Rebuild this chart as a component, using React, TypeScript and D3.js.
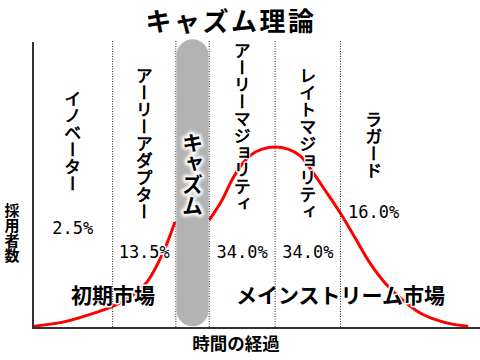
import * as d3 from "d3";

// adoption curve (time 0-100, adopters 0-100)
const earlyX = [0.2, 6.7, 14.4, 18.0, 21.8, 25.6, 29.2, 31.9];
const earlyY = [0.3, 1.7, 5.2, 7.3, 10.5, 15.7, 25.9, 36.7];
const mainX = [39.6, 42.5, 44.7, 47.0, 49.2, 51.5, 54.4, 57.3, 60.0, 62.7, 65.6, 69.2, 72.4, 75.7, 79.1, 83.1, 87.0, 90.8, 94.2, 97.8];
const mainY = [37.4, 44.4, 51.4, 57.0, 60.4, 62.2, 62.9, 62.2, 59.9, 54.5, 47.9, 39.5, 31.1, 22.4, 15.4, 9.4, 4.9, 2.4, 1.0, 0.3];

const groups = ["イノベーター", "アーリーアダプター", "アーリーマジョリティ", "レイトマジョリティ", "ラガード"];
const shares = [2.5, 13.5, 34.0, 34.0, 16.0];
const groupStart = [0, 17.9, 39.6, 54.4, 69.1];
const groupEnd = [17.9, 32.1, 54.4, 69.1, 84.0];
const chasm = [32.1, 39.6];
const dividers = [17.9, 32.1, 39.6, 54.4, 69.1];
const markets = ["初期市場", "メインストリーム市場"];
const marketX = [18.0, 69.1];

const title = "キャズム理論";
const chasmLabel = "キャズム";
const xLabel = "時間の経過";
const yLabel = "採用者数";

// label layout (in chart units)
const nameTop = [83, 91, 99.5, 91, 75.5];
const shareY = [32.6, 24.3, 24, 24.3, 38];

const W = 480;
const H = 360;
const JP = "'Noto Sans CJK JP', 'Noto Sans', sans-serif";

export default function App() {
  const x = d3.scaleLinear().domain([0, 100]).range([33, 478]);
  const y = d3.scaleLinear().domain([0, 100]).range([327, 41]);
  const line = d3
    .line<[number, number]>()
    .x((d) => x(d[0]))
    .y((d) => y(d[1]))
    .curve(d3.curveCatmullRom);
  const early = earlyX.map((v, i) => [v, earlyY[i]] as [number, number]);
  const main = mainX.map((v, i) => [v, mainY[i]] as [number, number]);
  const fmt = d3.format(".1f");
  const halo = { stroke: "#fff", strokeWidth: 3, paintOrder: "stroke" as const, strokeLinejoin: "round" as const };
  const cw = x(chasm[1]) - x(chasm[0]);

  return (
    <svg width={W} height={H} style={{ position: "absolute", left: 0, top: 0, background: "#fff" }}>
      <defs>
        <filter id="glow" x="-30%" y="-30%" width="160%" height="160%">
          <feGaussianBlur stdDeviation="1.6" />
        </filter>
      </defs>

      <path d={line(early) || ""} fill="none" stroke="#ff0000" strokeWidth={3} />
      <path d={line(main) || ""} fill="none" stroke="#ff0000" strokeWidth={3} />

      {groups.map((g, i) => {
        const cx = x((groupStart[i] + groupEnd[i]) / 2);
        return (
          <g key={g}>
            <text
              x={cx}
              y={y(nameTop[i])}
              fontFamily={JP}
              fontSize={17}
              style={{ writingMode: "vertical-rl", ...halo }}
              fill="#000"
            >
              {g}
            </text>
            <text
              x={cx}
              y={y(nameTop[i])}
              fontFamily={JP}
              fontSize={17}
              style={{ writingMode: "vertical-rl" }}
              fill="#000"
              stroke="#000"
              strokeWidth={0.5}
            >
              {g}
            </text>
            <text
              x={cx}
              y={y(shareY[i])}
              textAnchor="middle"
              fontFamily="'DejaVu Sans Mono', monospace"
              fontSize={17}
              fill="#000"
              style={halo}
            >
              {fmt(shares[i])}%
            </text>
          </g>
        );
      })}

      {markets.map((m, i) => (
        <text
          key={m}
          x={x(marketX[i])}
          y={y(8.4)}
          textAnchor="middle"
          fontFamily={JP}
          fontWeight="bold"
          fontSize={21}
          fill="#000"
          style={halo}
        >
          {m}
        </text>
      ))}

      {dividers.map((d) => (
        <line
          key={d}
          x1={x(d)}
          x2={x(d)}
          y1={y(100)}
          y2={y(0)}
          stroke="#222"
          strokeWidth={1}
          strokeDasharray="1 1.5"
        />
      ))}

      <rect
        x={x(chasm[0]) + 0.6}
        y={y(100.6)}
        width={cw - 1.2}
        height={y(0.3) - y(100.6)}
        rx={cw / 2}
        ry={16}
        fill="#b3b3b3"
      />
      <g fontFamily={JP} fontWeight="bold" fontSize={21} style={{ writingMode: "vertical-rl" }}>
        <text
          x={x((chasm[0] + chasm[1]) / 2)}
          y={y(68.5)}
          fill="#fff"
          stroke="#fff"
          strokeWidth={5}
          strokeLinejoin="round"
          filter="url(#glow)"
        >
          {chasmLabel}
        </text>
        <text x={x((chasm[0] + chasm[1]) / 2)} y={y(68.5)} fill="#000">
          {chasmLabel}
        </text>
      </g>

      <line x1={x(0)} x2={x(0)} y1={y(100) + 1} y2={y(0) + 2} stroke="#333" strokeWidth={2} />
      <line x1={x(0) - 1} x2={W} y1={y(0) + 1} y2={y(0) + 1} stroke="#333" strokeWidth={2} />

      <text x={231} y={30.5} textAnchor="middle" fontFamily={JP} fontWeight="bold" fontSize={26} letterSpacing={2.5} fill="#000">
        {title}
      </text>
      <text x={236} y={350} textAnchor="middle" fontFamily={JP} fontWeight="bold" fontSize={17.5} fill="#000">
        {xLabel}
      </text>
      <text x={12} y={203} fontFamily={JP} fontWeight="bold" fontSize={15} fill="#000" style={{ writingMode: "vertical-rl" }}>
        {yLabel}
      </text>
    </svg>
  );
}
